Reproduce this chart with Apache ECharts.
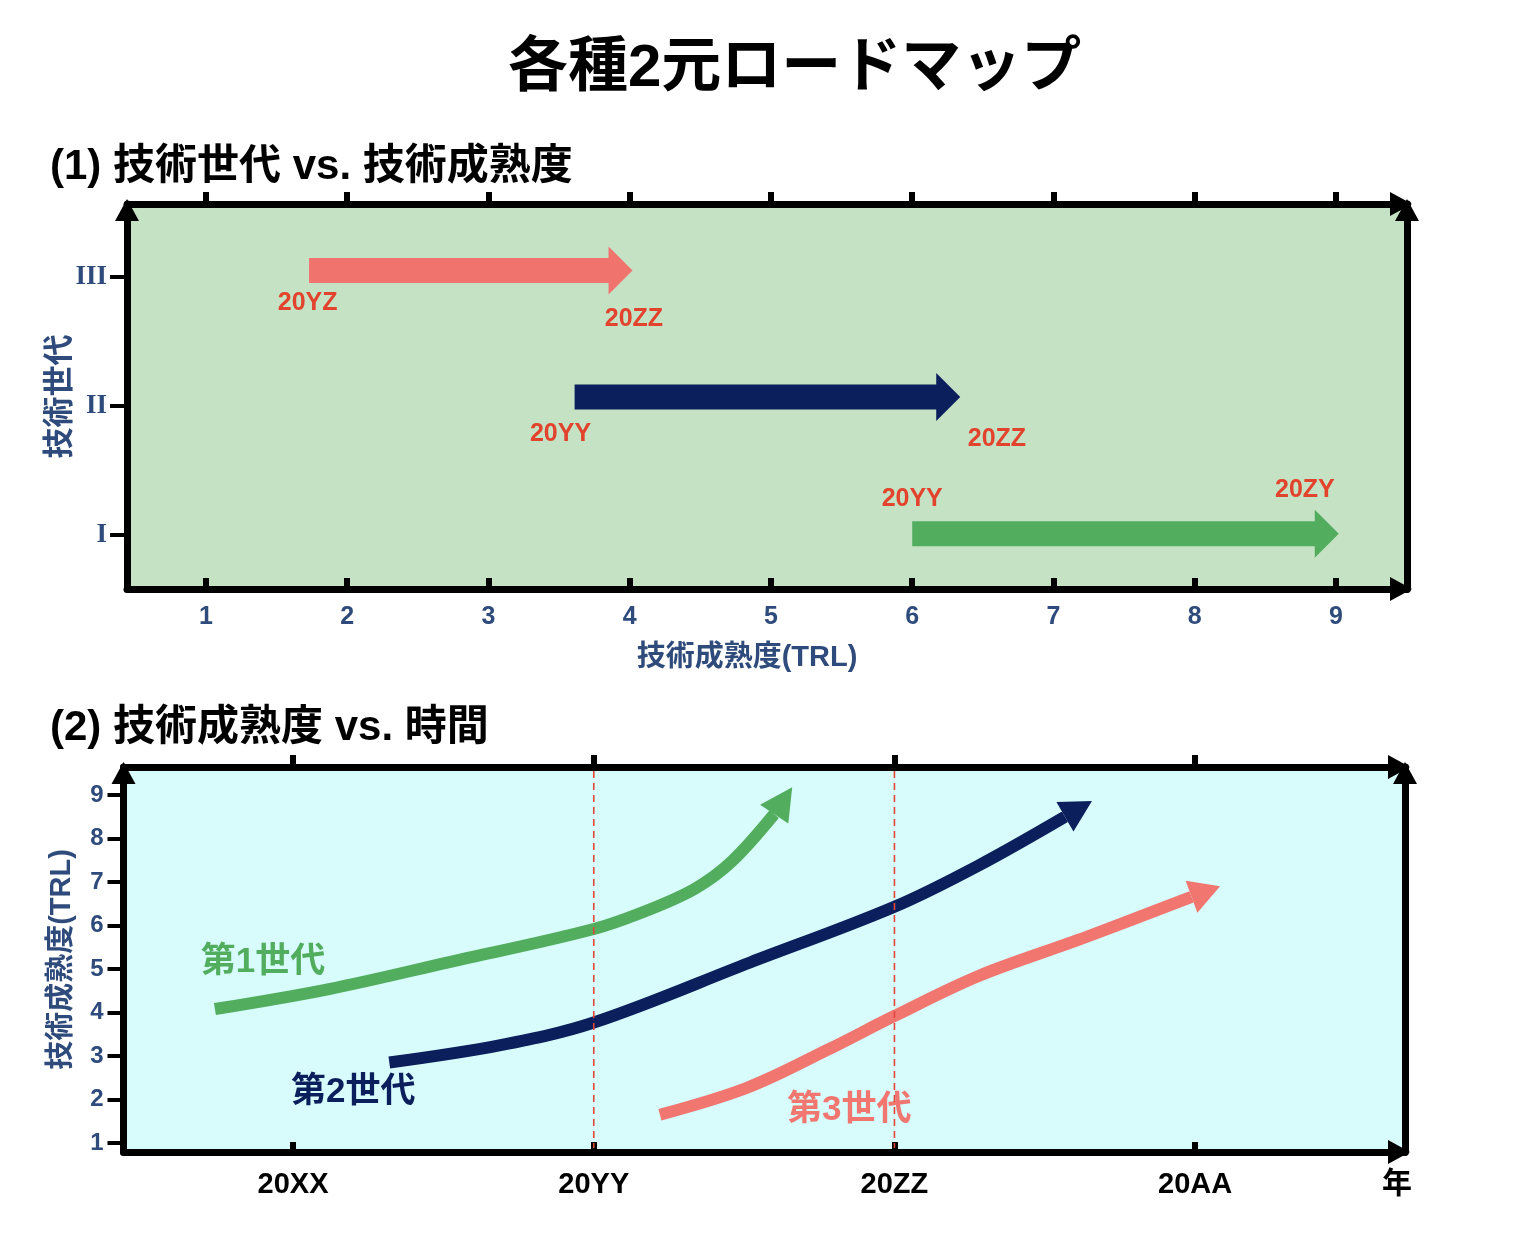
<!DOCTYPE html>
<html>
<head>
<meta charset="utf-8">
<script src="https://cdn.jsdelivr.net/npm/echarts@6/dist/echarts.min.js"></script>
<style>
  html, body { margin: 0; background: #fff; }
  #chart { width: 1536px; height: 1252px; }
</style>
</head>
<body>
<div id="chart"></div>
<script>
// ---- (1) 技術世代 vs. 技術成熟度 ----
const trlTicks = [1, 2, 3, 4, 5, 6, 7, 8, 9];
const genTicks = [1, 2, 3];
const genTickLabels = ['I', 'II', 'III'];
// one arrow per generation: TRL at start / end, generation level
const arrowStart = [1.73, 3.61, 6.0];
const arrowEnd = [4.02, 6.34, 9.02];
const arrowGen = [3.05, 2.07, 1.01];
// year labels next to the arrows
const yearText = ['20YZ', '20ZZ', '20YY', '20ZZ', '20YY', '20ZY'];
const yearTextX = [1.72, 4.03, 3.51, 6.6, 6.0, 8.78];
const yearTextY = [2.8, 2.67, 1.78, 1.74, 1.28, 1.35];

// ---- (2) 技術成熟度 vs. 時間 ----
const timeTicks = [1, 2, 3, 4];
const timeTickLabels = ['20XX', '20YY', '20ZZ', '20AA'];
const milestones = [2, 3];
// last two points of each curve = arrow head base and tip
const gen1Curve = [[0.74, 4.08], [1.12, 4.54], [1.52, 5.16], [2.0, 5.92], [2.19, 6.38], [2.34, 6.86], [2.46, 7.48], [2.6, 8.56], [2.66, 9.18]];
const gen2Curve = [[1.32, 2.85], [1.69, 3.25], [2.0, 3.77], [2.52, 5.15], [3.0, 6.43], [3.28, 7.38], [3.567, 8.5], [3.657, 8.86]];
const gen3Curve = [[2.22, 1.65], [2.51, 2.27], [2.78, 3.15], [3.0, 3.92], [3.28, 4.84], [3.62, 5.69], [3.988, 6.66], [4.083, 6.9]];
const genNames = ['第1世代', '第2世代', '第3世代'];
const genNameX = [0.9, 1.2, 2.85];
const genNameY = [5.16, 2.16, 1.76];

const FONT = "'Liberation Sans', 'Noto Sans CJK JP', sans-serif";
const NAVY_TEXT = '#2e4b7c';
const YEAR_RED = '#e2432d';
const colors = ['#f0746d', '#0b1f5c', '#52ae5e']; // arrows top to bottom
const curveColors = ['#52ae5e', '#0b1f5c', '#f0766f'];

// Frame axis with arrow head at the far end
function frameLine() {
  return {
    show: true,
    onZero: false,
    symbol: ['none', 'triangle'],
    symbolSize: [24, 22],
    symbolOffset: [0, -6],
    lineStyle: { color: '#000', width: 7 }
  };
}

const myChart = echarts.init(document.getElementById('chart'));

const option = {
  animation: false,
  title: [
    { text: '各種2元ロードマップ', left: 508, top: 39, padding: 0,
      textStyle: { fontSize: 60, fontWeight: 'bold', color: '#000', fontFamily: FONT } },
    { text: '(1) 技術世代 vs. 技術成熟度', left: 50, top: 146, padding: 0,
      textStyle: { fontSize: 42, fontWeight: 'bold', color: '#000', fontFamily: FONT } },
    { text: '(2) 技術成熟度 vs. 時間', left: 50, top: 707, padding: 0,
      textStyle: { fontSize: 42, fontWeight: 'bold', color: '#000', fontFamily: FONT } }
  ],
  grid: [
    { left: 127, top: 204, width: 1280, height: 385, show: true, backgroundColor: '#c5e2c5', borderWidth: 0 },
    { left: 123.5, top: 767, width: 1281.5, height: 385, show: true, backgroundColor: '#d8fcfc', borderWidth: 0 }
  ],
  xAxis: [
    {
      gridIndex: 0, type: 'value', position: 'bottom', min: 0.441, max: 9.503,
      axisLine: frameLine(),
      axisTick: { show: true, inside: true, length: 11, customValues: trlTicks, lineStyle: { color: '#000', width: 6 } },
      axisLabel: { customValues: trlTicks, margin: 16, color: NAVY_TEXT, fontSize: 25, fontWeight: 'bold', fontFamily: FONT },
      splitLine: { show: false },
      name: '技術成熟度(TRL)', nameLocation: 'middle', nameGap: 54, nameMoveOverlap: false,
      nameTextStyle: { fontSize: 29, fontWeight: 'bold', color: NAVY_TEXT, fontFamily: FONT, padding: [0, 40, 0, 0] }
    },
    {
      gridIndex: 0, type: 'value', position: 'top', min: 0.441, max: 9.503,
      axisLine: frameLine(),
      axisTick: { show: true, inside: false, length: 12, customValues: trlTicks, lineStyle: { color: '#000', width: 6 } },
      axisLabel: { show: false },
      splitLine: { show: false }
    },
    {
      gridIndex: 1, type: 'value', position: 'bottom', min: 0.436, max: 4.698,
      axisLine: frameLine(),
      axisTick: { show: true, inside: true, length: 10, customValues: timeTicks, lineStyle: { color: '#000', width: 6 } },
      axisLabel: {
        customValues: timeTicks, margin: 18, color: '#000', fontSize: 29, fontWeight: 'bold', fontFamily: FONT,
        formatter: (v) => timeTickLabels[timeTicks.indexOf(v)]
      },
      splitLine: { show: false },
      name: '年', nameLocation: 'end', nameGap: -8, nameMoveOverlap: false,
      nameTextStyle: { fontSize: 30, fontWeight: 'bold', color: '#000', fontFamily: FONT,
        align: 'center', verticalAlign: 'top', padding: [18, 0, 0, 0] }
    },
    {
      gridIndex: 1, type: 'value', position: 'top', min: 0.436, max: 4.698,
      axisLine: frameLine(),
      axisTick: { show: true, inside: false, length: 12, customValues: timeTicks, lineStyle: { color: '#000', width: 6 } },
      axisLabel: { show: false },
      splitLine: { show: false }
    }
  ],
  yAxis: [
    {
      gridIndex: 0, type: 'value', position: 'left', min: 0.581, max: 3.566,
      axisLine: frameLine(),
      axisTick: { show: true, inside: false, length: 17, customValues: genTicks, lineStyle: { color: '#000', width: 4 } },
      axisLabel: {
        customValues: genTicks, margin: 20, color: NAVY_TEXT, fontSize: 27, fontWeight: 'bold',
        fontFamily: "'Liberation Serif', serif",
        formatter: (v) => genTickLabels[genTicks.indexOf(v)]
      },
      splitLine: { show: false },
      name: '技術世代', nameLocation: 'middle', nameRotate: 90, nameGap: 51, nameMoveOverlap: false,
      nameTextStyle: { fontSize: 31, fontWeight: 'bold', color: NAVY_TEXT, fontFamily: FONT }
    },
    {
      gridIndex: 0, type: 'value', position: 'right', min: 0.581, max: 3.566,
      axisLine: frameLine(),
      axisTick: { show: false }, axisLabel: { show: false }, splitLine: { show: false }
    },
    {
      gridIndex: 1, type: 'value', position: 'left', min: 0.793, max: 9.644,
      axisLine: frameLine(),
      axisTick: { show: true, inside: false, length: 16, customValues: trlTicks, lineStyle: { color: '#000', width: 4 } },
      axisLabel: { customValues: trlTicks, margin: 20, color: NAVY_TEXT, fontSize: 24, fontWeight: 'bold', fontFamily: FONT },
      splitLine: { show: false },
      name: '技術成熟度(TRL)', nameLocation: 'middle', nameRotate: 90, nameGap: 47, nameMoveOverlap: false,
      nameTextStyle: { fontSize: 29, fontWeight: 'bold', color: NAVY_TEXT, fontFamily: FONT }
    },
    {
      gridIndex: 1, type: 'value', position: 'right', min: 0.793, max: 9.644,
      axisLine: frameLine(),
      axisTick: { show: false }, axisLabel: { show: false }, splitLine: { show: false }
    }
  ],
  series: [
    // chart 1: block arrows
    {
      type: 'custom', xAxisIndex: 0, yAxisIndex: 0, z: 5,
      encode: { x: [0, 1], y: 2 },
      data: arrowStart.map((s, i) => [s, arrowEnd[i], arrowGen[i], i]),
      renderItem: (params, api) => {
        const a = api.coord([api.value(0), api.value(2)]);
        const b = api.coord([api.value(1), api.value(2)]);
        const hw = 12.5, hh = 24, hl = 24;
        const y = a[1];
        return {
          type: 'polygon',
          shape: { points: [
            [a[0], y - hw], [b[0] - hl, y - hw], [b[0] - hl, y - hh], [b[0], y],
            [b[0] - hl, y + hh], [b[0] - hl, y + hw], [a[0], y + hw]
          ] },
          style: { fill: colors[api.value(3)] }
        };
      }
    },
    // chart 1: year labels
    {
      type: 'custom', xAxisIndex: 0, yAxisIndex: 0, z: 6,
      data: yearTextX.map((x, i) => [x, yearTextY[i], i]),
      renderItem: (params, api) => {
        const p = api.coord([api.value(0), api.value(1)]);
        return {
          type: 'text', x: p[0], y: p[1],
          style: { text: yearText[api.value(2)], fill: YEAR_RED, fontSize: 25, fontWeight: 'bold',
            fontFamily: FONT, align: 'center', verticalAlign: 'middle' }
        };
      }
    },
    // chart 2: curves (body up to the arrow head base)
    ...[gen1Curve, gen2Curve, gen3Curve].map((c, i) => ({
      type: 'line', xAxisIndex: 2, yAxisIndex: 2, z: 4,
      data: c.slice(0, -1), smooth: 0.35, symbol: 'none',
      lineStyle: { color: curveColors[i], width: 12, cap: 'butt' }
    })),
    // chart 2: arrow heads
    {
      type: 'custom', xAxisIndex: 2, yAxisIndex: 2, z: 5,
      encode: { x: [0, 2], y: [1, 3] },
      data: [gen1Curve, gen2Curve, gen3Curve].map((c, i) => {
        const base = c[c.length - 2], tip = c[c.length - 1];
        return [base[0], base[1], tip[0], tip[1], i];
      }),
      renderItem: (params, api) => {
        const b = api.coord([api.value(0), api.value(1)]);
        const t = api.coord([api.value(2), api.value(3)]);
        const dx = t[0] - b[0], dy = t[1] - b[1];
        const len = Math.sqrt(dx * dx + dy * dy);
        const px = -dy / len * 17, py = dx / len * 17;
        return {
          type: 'polygon',
          shape: { points: [[t[0], t[1]], [b[0] + px, b[1] + py], [b[0] - px, b[1] - py]] },
          style: { fill: curveColors[api.value(4)] }
        };
      }
    },
    // chart 2: milestone dashed lines
    {
      type: 'custom', xAxisIndex: 2, yAxisIndex: 2, z: 8,
      data: milestones.map((m) => [m, 5]),
      renderItem: (params, api) => {
        const p = api.coord([api.value(0), api.value(1)]);
        const cs = params.coordSys;
        return {
          type: 'line',
          shape: { x1: p[0], y1: cs.y + 4, x2: p[0], y2: cs.y + cs.height - 4 },
          style: { stroke: '#e0473a', lineWidth: 1.6, lineDash: [7, 5] }
        };
      }
    },
    // chart 2: generation names
    {
      type: 'custom', xAxisIndex: 2, yAxisIndex: 2, z: 6,
      data: genNameX.map((x, i) => [x, genNameY[i], i]),
      renderItem: (params, api) => {
        const p = api.coord([api.value(0), api.value(1)]);
        const i = api.value(2);
        return {
          type: 'text', x: p[0], y: p[1],
          style: { text: genNames[i], fill: curveColors[i], fontSize: 35, fontWeight: 'bold',
            fontFamily: FONT, align: 'center', verticalAlign: 'middle' }
        };
      }
    }
  ]
};

myChart.setOption(option);
</script>
</body>
</html>
